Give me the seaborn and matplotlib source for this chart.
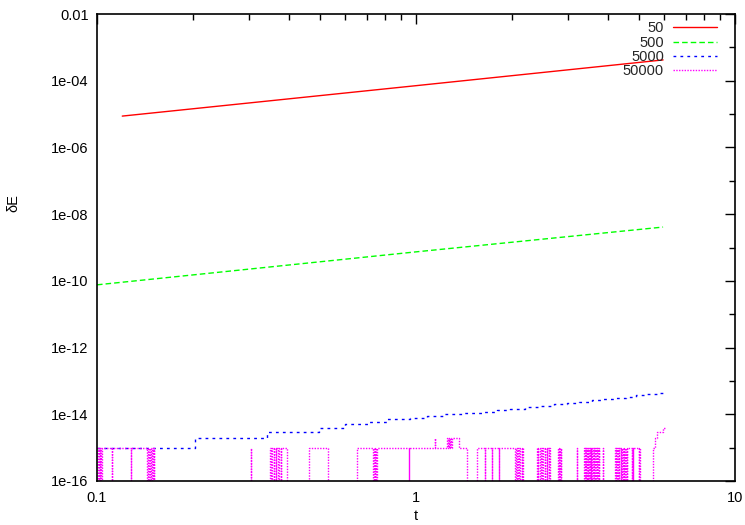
import matplotlib
matplotlib.use("Agg")
import matplotlib.pyplot as plt
import numpy as np
import pandas as pd
import seaborn as sns

# number of steps of each run (legend labels)
RUNS = ['50', '500', '5000', '50000']

# the two coarse runs grow as a straight line on log-log axes
red_t = [0.12, 1.0, 5.95]
red_dE = [8.7e-6, 7.1e-5, 4.2e-4]

green_t = [0.1, 1.0, 5.95]
green_dE = [7.6e-11, 7.4e-10, 4.1e-9]

# 5000 steps: round-off staircase, levels in units of 1e-15
blue_t = [0.1, 0.203, 0.341, 0.497, 0.599, 0.712, 0.813, 0.958, 1.08, 1.224,
          1.391, 1.607, 1.79, 1.97, 2.2, 2.45, 2.7, 2.97, 3.25, 3.55, 3.85,
          4.2, 4.55, 4.9, 5.3, 5.7, 5.95]
blue_q = [1, 2, 3, 4, 5, 6, 7, 8, 9, 10,
          11, 12, 13, 14, 16, 18, 20, 22, 24, 26, 28,
          31, 34, 37, 40, 43, 45]

# 50000 steps: flips between one round-off unit and (almost) zero.
# levels in units of 1e-15, 0.01 stands for "below the axis"
mag_t = [0.1, 0.1008, 0.1012, 0.102, 0.1025, 0.1033, 0.1037,
         0.1114, 0.1117, 0.1278, 0.1281,
         0.1434, 0.144, 0.1455, 0.1462, 0.1478, 0.1485, 0.15, 0.1505, 0.1509,
         0.304, 0.3047,
         0.3485, 0.352, 0.353, 0.358, 0.359, 0.364, 0.365, 0.37, 0.371, 0.377, 0.378, 0.394,
         0.462, 0.53,
         0.653, 0.733, 0.737, 0.742, 0.746, 0.751, 0.755,
         0.951, 0.954, 1.147, 1.15,
         1.251, 1.258, 1.265, 1.272, 1.28, 1.288, 1.296, 1.364, 1.445,
         1.553, 1.646, 1.65, 1.73, 1.734, 1.82, 1.824,
         2.043, 2.055, 2.075, 2.09, 2.11, 2.125, 2.145, 2.155, 2.164,
         2.395, 2.41, 2.42, 2.45, 2.46, 2.49, 2.5, 2.53, 2.54, 2.57, 2.58, 2.61, 2.62, 2.631,
         2.787, 2.8, 2.81, 2.83, 2.84, 2.848,
         3.196, 3.205,
         3.363, 3.38, 3.39, 3.41, 3.42, 3.44, 3.45, 3.47, 3.48, 3.5, 3.51, 3.53, 3.54, 3.562,
         3.59, 3.61, 3.62, 3.65, 3.66, 3.69, 3.7, 3.73, 3.74, 3.747,
         3.857, 3.865,
         4.206, 4.23, 4.24, 4.28, 4.29, 4.33, 4.34, 4.38, 4.39, 4.43, 4.44, 4.48, 4.49,
         4.53, 4.54, 4.57, 4.585,
         4.754, 4.77, 4.79, 4.8, 5.0, 5.01, 5.04,
         5.534, 5.61, 5.695, 5.946, 6.03]
mag_q = [1, 0.01, 1, 0.01, 1, 0.01, 1,
         0.01, 1, 0.01, 1,
         0.01, 1, 0.01, 1, 0.01, 1, 0.01, 1, 0.01,
         1, 0.01,
         1, 0.01, 1, 0.01, 1, 0.01, 1, 0.01, 1, 0.01, 1, 0.01,
         1, 0.01,
         1, 0.01, 1, 0.01, 1, 0.01, 1,
         0.01, 1, 2, 1,
         2, 1, 2, 1, 2, 1, 2, 1, 0.01,
         1, 0.01, 1, 0.01, 1, 0.01, 1,
         0.01, 1, 0.01, 1, 0.01, 1, 0.01, 1, 0.01,
         1, 0.01, 1, 0.01, 1, 0.01, 1, 0.01, 1, 0.01, 1, 0.01, 1, 0.01,
         1, 0.01, 1, 0.01, 1, 0.01,
         1, 0.01,
         1, 0.01, 1, 0.01, 1, 0.01, 1, 0.01, 1, 0.01, 1, 0.01, 1, 0.01,
         1, 0.01, 1, 0.01, 1, 0.01, 1, 0.01, 1, 0.01,
         1, 0.01,
         1, 0.01, 1, 0.01, 1, 0.01, 1, 0.01, 1, 0.01, 1, 0.01, 1,
         0.01, 1, 0.01, 1,
         0.01, 1, 0.01, 1, 0.01, 1, 0.01,
         1, 2, 3, 4, 4]

x_ticks = [0.1, 1, 10]
x_labels = ['0.1', '1', '10']
x_minor = [0.2, 0.3, 0.4, 0.5, 0.6, 0.7, 0.8, 0.9, 2, 3, 4, 5, 6, 7, 8, 9]
y_ticks = [1e-16, 1e-14, 1e-12, 1e-10, 1e-8, 1e-6, 1e-4, 1e-2]
y_labels = ['1e-16', '1e-14', '1e-12', '1e-10', '1e-08', '1e-06', '1e-04', '0.01']
y_minor = [1e-15, 1e-13, 1e-11, 1e-9, 1e-7, 1e-5, 1e-3]

FS = 10.5

sns.set_theme(style='white')
plt.rcParams['font.family'] = ['Liberation Sans', 'DejaVu Sans']

fig = plt.figure(figsize=(7.45, 5.25), dpi=100)
ax = fig.add_axes([97 / 745, 1 - 481 / 525, 638 / 745, 467 / 525])

common = dict(ax=ax, estimator=None, sort=False, linewidth=1.0)
sns.lineplot(x=red_t, y=red_dE, color='#ff0000', label=RUNS[0], **common)
sns.lineplot(x=green_t, y=green_dE, color='#00ff00', label=RUNS[1],
             linestyle=(0, (4, 2.2)), **common)
sns.lineplot(x=blue_t, y=np.array(blue_q) * 1e-15, color='#0000ff', label=RUNS[2],
             linestyle=(0, (2, 3)), drawstyle='steps-post', **common)
sns.lineplot(x=mag_t, y=np.array(mag_q) * 1e-15, color='#ff00ff', label=RUNS[3],
             linestyle=(0, (1, 1)), drawstyle='steps-post', **common)

ax.set(xscale='log', yscale='log')
ax.set_xlim(0.1, 10)
ax.set_ylim(1e-16, 1e-2)

ax.set_xticks(x_ticks, labels=x_labels)
ax.set_xticks(x_minor, minor=True)
ax.set_yticks(y_ticks, labels=y_labels)
ax.set_yticks(y_minor, minor=True)
ax.xaxis.set_minor_formatter(plt.NullFormatter())
ax.yaxis.set_minor_formatter(plt.NullFormatter())
ax.tick_params(which='both', direction='in', top=True, right=True, color='black',
               width=1, labelsize=FS, labelcolor='black')
ax.tick_params(which='major', length=7)
ax.tick_params(which='minor', length=4)
ax.tick_params(axis='x', pad=7)
ax.tick_params(axis='y', pad=6)

for sp in ax.spines.values():
    sp.set_color('black')
    sp.set_linewidth(1.2)

ax.set_xlabel('t', fontsize=FS, color='black')
ax.set_ylabel('δE', fontsize=FS, color='black')
ax.xaxis.set_label_coords(0.5, -0.06)
ax.yaxis.set_label_coords(-0.12, 0.595)

ax.legend(loc='upper right', bbox_to_anchor=(0.972, 0.984), frameon=False,
          markerfirst=False, fontsize=FS, handlelength=3.0, handletextpad=0.65,
          labelspacing=0.02, borderaxespad=0, borderpad=0)

fig.savefig('out.png', dpi=100)
